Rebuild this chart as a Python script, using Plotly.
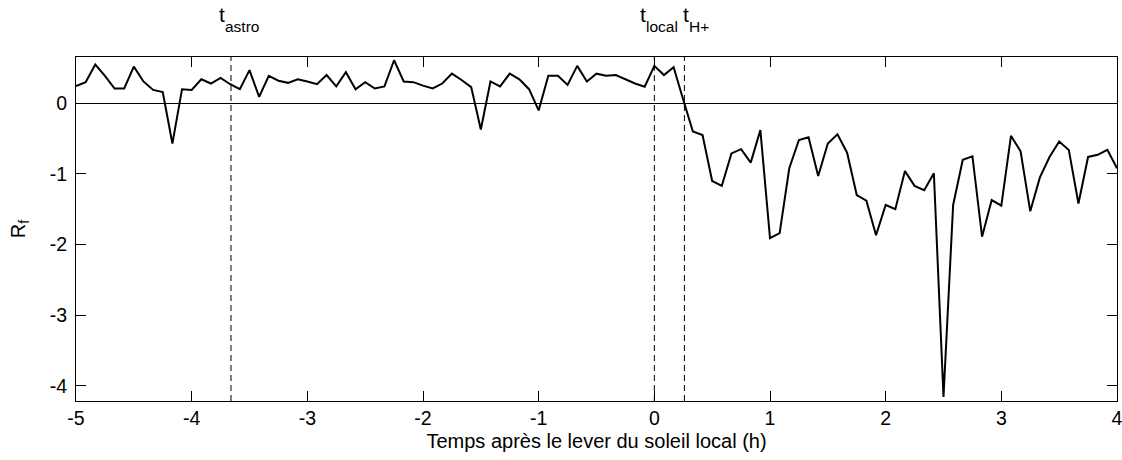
import plotly.graph_objects as go

# Sampling grid: one value every 5 minutes, from 5 h before to 4 h after local sunrise
minutes = list(range(-300, 245, 5))
hours = [m / 60 for m in minutes]

# Ratio R_f at each sample
r_f = [
    0.245, 0.30, 0.55, 0.39, 0.21, 0.21, 0.52, 0.31, 0.19, 0.16,
    -0.57, 0.20, 0.19, 0.34, 0.28, 0.36, 0.27, 0.20, 0.47, 0.09,
    0.39, 0.32, 0.29, 0.34, 0.31, 0.27, 0.40, 0.24, 0.44, 0.20,
    0.30, 0.21, 0.24, 0.61, 0.31, 0.30, 0.25, 0.21, 0.28, 0.42,
    0.33, 0.23, -0.37, 0.31, 0.24, 0.42, 0.34, 0.20, -0.10, 0.39,
    0.39, 0.26, 0.53, 0.31, 0.42, 0.39, 0.40, 0.34, 0.28, 0.235,
    0.53, 0.40, 0.51, 0.05, -0.40, -0.45, -1.10, -1.17, -0.71, -0.65,
    -0.84, -0.38, -1.91, -1.84, -0.92, -0.52, -0.48, -1.03, -0.57, -0.44,
    -0.70, -1.30, -1.38, -1.87, -1.44, -1.50, -0.96, -1.17, -1.23, -0.99,
    -4.16, -1.44, -0.80, -0.75, -1.89, -1.37, -1.45, -0.46, -0.68, -1.53,
    -1.05, -0.76, -0.54, -0.66, -1.42, -0.76, -0.73, -0.66, -0.92,
]

# Reference instants (h): astronomical sunrise, local sunrise, H+ onset
event_names = ["astro", "local", "H+"]
event_times = [-3.66, 0.0, 0.26]
# horizontal offset (px) of the "t" glyph from each dashed line
label_shift = [-13, -15, -2]

x_ticks = [-5, -4, -3, -2, -1, 0, 1, 2, 3, 4]
y_ticks = [-4, -3, -2, -1, 0]

FONT = "Liberation Sans, Arial, sans-serif"
MAIN = 21
SUB = 15.5
TICK = 19.5

fig = go.Figure()
fig.add_trace(go.Scatter(
    x=hours, y=r_f, mode="lines",
    line=dict(color="black", width=2),
    showlegend=False, hoverinfo="skip",
))

for name, t, dx in zip(event_names, event_times, label_shift):
    fig.add_shape(
        type="line", xref="x", yref="paper", x0=t, x1=t, y0=0, y1=1,
        line=dict(color="black", width=1, dash="6px,4px"),
    )
    fig.add_annotation(
        x=t, xref="x", y=1, yref="paper", text="t", showarrow=False,
        xanchor="left", yanchor="bottom", xshift=dx - 1, yshift=29,
        font=dict(family=FONT, size=MAIN, color="black"),
    )
    fig.add_annotation(
        x=t, xref="x", y=1, yref="paper", text=name, showarrow=False,
        xanchor="left", yanchor="bottom", xshift=dx + 5, yshift=20,
        font=dict(family=FONT, size=SUB, color="black"),
    )

axis_common = dict(
    showline=True, linecolor="black", linewidth=1, mirror="ticks",
    ticks="inside", ticklen=10, tickcolor="black", tickwidth=1,
    showgrid=False, tickfont=dict(family=FONT, size=TICK, color="black"),
    ticklabeloverflow="allow", automargin=False,
)

fig.update_xaxes(
    range=[-5, 4], tickvals=x_ticks, ticktext=[str(v) for v in x_ticks],
    zeroline=False,
    title=dict(text="Temps après le lever du soleil local (h)",
               font=dict(family=FONT, size=20, color="black"), standoff=5),
    **axis_common,
)
fig.update_yaxes(
    range=[-4.217, 0.656], tickvals=y_ticks, ticktext=[str(v) for v in y_ticks],
    zeroline=True, zerolinecolor="black", zerolinewidth=1,
    title=dict(text="R<sub>f</sub>",
               font=dict(family=FONT, size=20, color="black"), standoff=18),
    ticklabelstandoff=4,
    **axis_common,
)

fig.update_layout(
    width=1122, height=460,
    margin=dict(l=76, r=5, t=57, b=59, autoexpand=False),
    paper_bgcolor="white", plot_bgcolor="white",
    font=dict(family=FONT, size=20, color="black"),
)

fig.write_html("out.html")
